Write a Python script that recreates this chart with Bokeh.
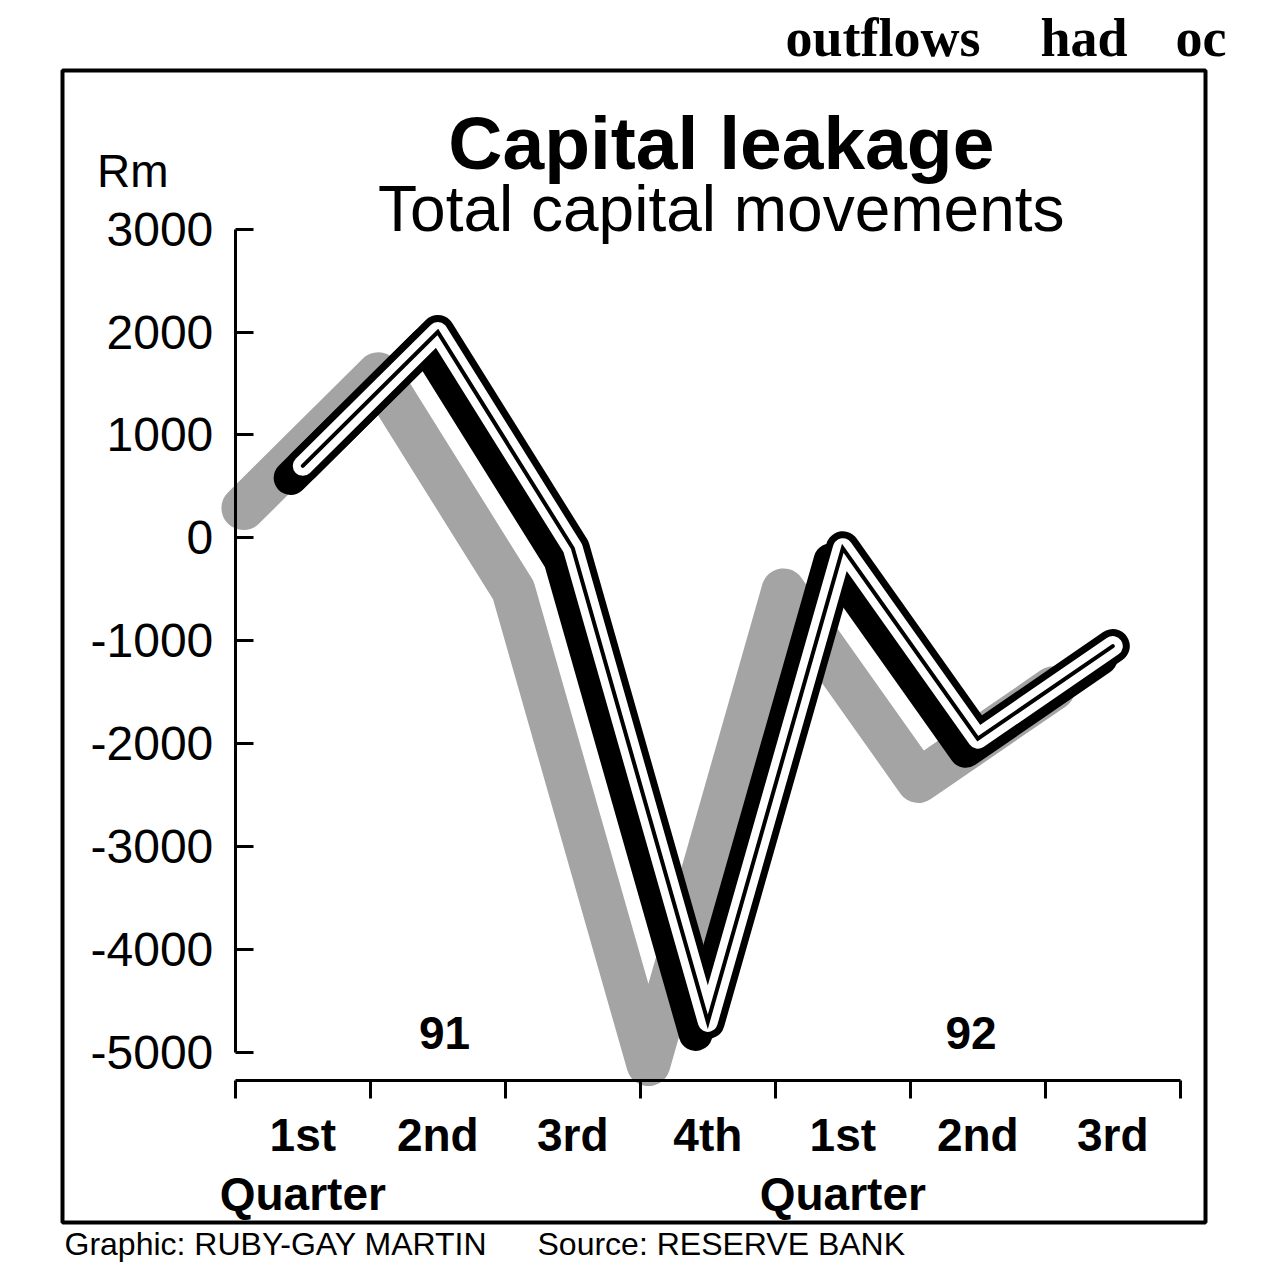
import numpy as np
from bokeh.plotting import figure
from bokeh.models import Range1d, LinearAxis, FixedTicker
from bokeh.core.properties import value
from bokeh.embed import file_html
from bokeh.resources import INLINE

# ---------------- data ----------------
quarter_labels = ["1st\nQuarter", "2nd", "3rd", "4th", "1st\nQuarter", "2nd", "3rd"]
year_labels = ["91", "92"]
capital_movements = [700, 2000, -100, -4700, -100, -1950, -1050]   # Rm, total capital movements
y_ticks = [3000, 2000, 1000, 0, -1000, -2000, -3000, -4000, -5000]
y_tick_labels = ["3000", "2000", "1000", "0", "-1000", "-2000", "-3000", "-4000", "-5000"]
title_text = "Capital leakage"
subtitle_text = "Total capital movements"
unit_text = "Rm"
credit_text = "Graphic: RUBY-GAY MARTIN"
source_text = "Source: RESERVE BANK"
article_words = ["outflows", "had", "oc"]

# ---------------- layout ----------------
SANS = "Liberation Sans"
SERIF = "Liberation Serif"
W, H = 1254, 1264
PX_X = 135.0            # px per quarter
PX_Y = 0.10296          # px per Rm
X0 = -1.7393            # data x at left edge of canvas
Y1 = 5219.9             # data y at top edge of canvas


def xpx(px):
    return X0 + px / PX_X


def ypx(py):
    return Y1 - py / PX_Y


x = np.arange(len(capital_movements)) + 0.5
y = np.array(capital_movements, dtype=float)
q_edges = list(range(len(capital_movements) + 1))

p = figure(width=W, height=H, output_backend="svg", toolbar_location=None,
           title=None, x_axis_type=None, y_axis_type=None,
           x_range=Range1d(X0, X0 + W / PX_X), y_range=Range1d(Y1 - H / PX_Y, Y1),
           min_border_left=0, min_border_right=0, min_border_top=0, min_border_bottom=0)
p.background_fill_color = "white"
p.border_fill_color = "white"
p.outline_line_color = None

# the graphic's box
p.quad(left=[xpx(62)], right=[xpx(1205)], top=[ypx(70)], bottom=[ypx(1222)],
       fill_color=None, line_color="black", line_width=4)

# shadow (stippled grey), extrusion, outline, white band, centre line
p.line(x - 0.44, y - 410, line_width=44, line_color="#a4a4a4", line_join="round", line_cap="round")
p.line(x - 0.09, y - 117, line_width=34, line_color="black", line_join="round", line_cap="round")
p.line(x, y, line_width=34, line_color="black", line_join="round", line_cap="round")
p.line(x, y, line_width=20, line_color="white", line_join="round", line_cap="round")
p.line(x, y, line_width=4, line_color="black", line_join="miter", line_cap="round")

# y axis
yaxis = LinearAxis(fixed_location=0, ticker=FixedTicker(ticks=y_ticks), bounds=(-5000, 3000),
                   major_tick_in=18, major_tick_out=0, minor_tick_line_color=None,
                   axis_line_width=3, major_tick_line_width=3,
                   major_label_overrides=dict(zip(y_ticks, y_tick_labels)),
                   major_label_standoff=22,
                   major_label_text_font=SANS, major_label_text_font_size="48px",
                   major_label_text_color="black")
p.add_layout(yaxis, "left")

# x axis line with quarter-boundary ticks
xaxis = LinearAxis(fixed_location=-5270, ticker=FixedTicker(ticks=q_edges), bounds=(0, 7),
                   major_tick_in=0, major_tick_out=18, minor_tick_line_color=None,
                   axis_line_width=3, major_tick_line_width=3,
                   major_label_text_color=None)
p.add_layout(xaxis, "below")

# quarter labels at quarter centres
qaxis = LinearAxis(fixed_location=-5270, ticker=FixedTicker(ticks=list(x)),
                   axis_line_color=None, major_tick_line_color=None, minor_tick_line_color=None,
                   major_label_overrides={float(xi): lab for xi, lab in zip(x, quarter_labels)},
                   major_label_standoff=22,
                   major_label_text_font=SANS, major_label_text_font_size="46px",
                   major_label_text_font_style="bold", major_label_text_color="black",
                   major_label_text_line_height=1.15)
p.add_layout(qaxis, "below")

# titles and labels
p.text(x=[3.6], y=[3836], text=[title_text], text_font=value(SANS), text_font_size="75px",
       text_font_style="bold", text_align="center", text_baseline="middle", text_color="black")
p.text(x=[3.6], y=[3195], text=[subtitle_text], text_font=value(SANS), text_font_size="64px",
       text_align="center", text_baseline="middle", text_color="black")
p.text(x=[-0.76], y=[3560], text=[unit_text], text_font=value(SANS), text_font_size="46px",
       text_align="center", text_baseline="middle", text_color="black")
p.text(x=[1.55, 5.45], y=[-4808, -4808], text=year_labels, text_font=value(SANS),
       text_font_size="46px", text_font_style="bold", text_align="center",
       text_baseline="middle", text_color="black")

# credits below the box
p.text(x=[xpx(64), xpx(537)], y=[ypx(1243), ypx(1243)],
       text=[credit_text, source_text], text_font=value(SANS), text_font_size="32px",
       text_align="left", text_baseline="middle", text_color="black")

# scanned article text fragment above the graphic
p.text(x=[xpx(785), xpx(1040), xpx(1175)], y=[ypx(37)] * 3, text=article_words,
       text_font=value(SERIF), text_font_size="54px", text_font_style="bold",
       text_align="left", text_baseline="middle", text_color="black")

open("out.html", "w").write(file_html(p, INLINE))
